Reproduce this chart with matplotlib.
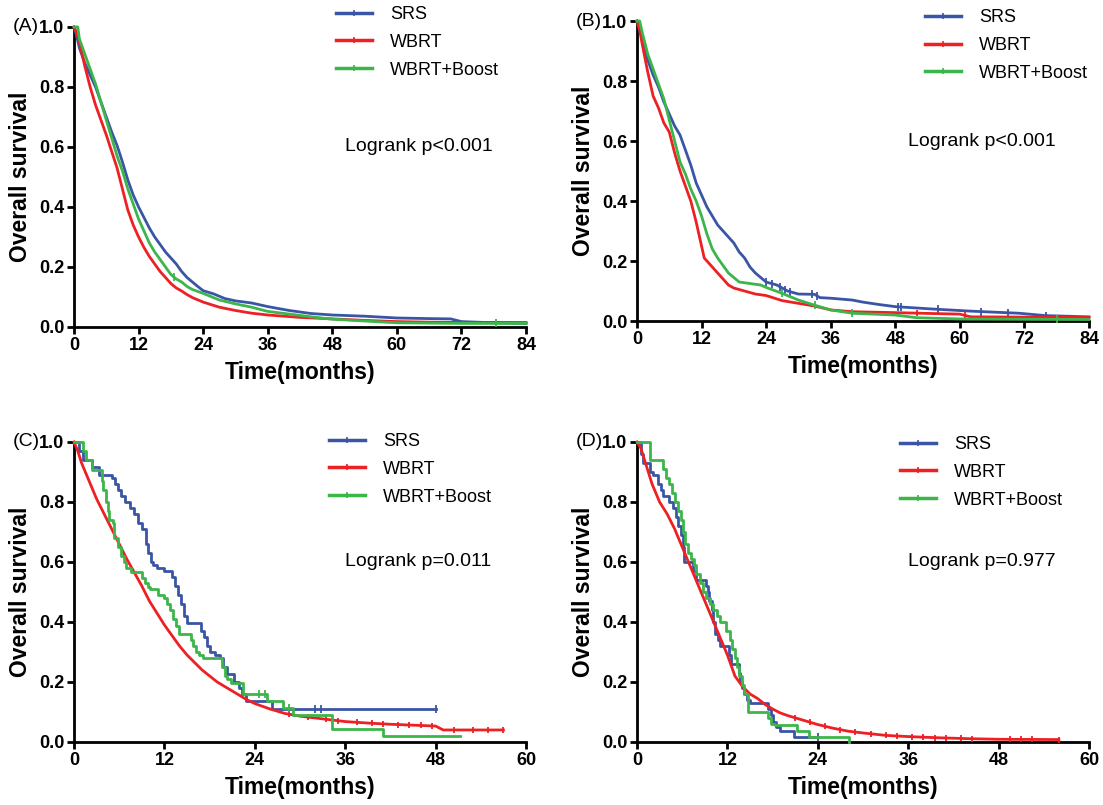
import numpy as np
import matplotlib
matplotlib.use("Agg")
import matplotlib.pyplot as plt
from matplotlib.lines import Line2D

plt.rcParams['font.family'] = ['Liberation Sans', 'DejaVu Sans']

BLUE = '#3a55a5'
RED = '#ed2024'
GREEN = '#3cb54a'

# ---- (A) ----
a_srs_t = [0, 0.5, 1, 2, 3, 4, 5, 6, 7, 8, 9, 10, 11, 12, 13, 14, 15, 16, 17, 18, 19, 20,
           21, 22, 23, 24, 26, 28, 30, 33, 36, 40, 44, 48, 54, 60, 66, 70, 72, 78, 84]
a_srs_s = [1.0, 0.97, 0.93, 0.88, 0.84, 0.80, 0.75, 0.70, 0.65, 0.605, 0.55, 0.49, 0.44, 0.40,
           0.365, 0.33, 0.30, 0.275, 0.25, 0.23, 0.21, 0.185, 0.165, 0.15, 0.135, 0.121, 0.11,
           0.095, 0.087, 0.08, 0.068, 0.055, 0.045, 0.04, 0.036, 0.03, 0.028, 0.027, 0.018,
           0.014, 0.012]
a_wbrt_t = [0, 0.5, 1, 2, 3, 4, 5, 6, 7, 8, 9, 10, 11, 12, 13, 14, 15, 16, 17, 18, 19, 20,
            21, 22, 24, 27, 30, 33, 36, 42, 48, 54, 60, 66, 72, 78, 84]
a_wbrt_s = [1.0, 0.98, 0.95, 0.87, 0.80, 0.74, 0.69, 0.64, 0.585, 0.53, 0.46, 0.39, 0.34, 0.30,
            0.265, 0.235, 0.21, 0.185, 0.165, 0.145, 0.13, 0.12, 0.108, 0.098, 0.083, 0.066,
            0.055, 0.046, 0.04, 0.032, 0.027, 0.022, 0.018, 0.016, 0.015, 0.015, 0.015]
a_boost_t = [0, 0.7, 1, 2, 3, 4, 5, 6, 7, 8, 9, 10, 11, 12, 13, 14, 15, 16, 17, 18, 19, 20,
             21, 22, 24, 27, 30, 33, 36, 40, 44, 48, 54, 60, 66, 72, 78, 84]
a_boost_s = [1.0, 1.0, 0.96, 0.91, 0.86, 0.81, 0.75, 0.69, 0.63, 0.57, 0.52, 0.46, 0.41, 0.36,
             0.32, 0.28, 0.25, 0.225, 0.20, 0.175, 0.16, 0.15, 0.135, 0.125, 0.112, 0.09, 0.077,
             0.066, 0.052, 0.043, 0.034, 0.026, 0.02, 0.014, 0.013, 0.012, 0.012, 0.012]
a_boost_cens = [18.5, 78.5]

# ---- (B) ----
b_srs_t = [0, 1, 2, 3, 4, 5, 6, 7, 8, 9, 10, 11, 12, 13, 14, 15, 16, 17, 18, 19, 20, 21, 22,
           23, 24, 25, 26, 27, 28, 30, 33, 34, 36, 40, 42, 45, 48, 55, 62, 71, 76, 84]
b_srs_s = [1.0, 0.94, 0.87, 0.82, 0.78, 0.73, 0.69, 0.65, 0.62, 0.57, 0.52, 0.46, 0.42, 0.38,
           0.35, 0.32, 0.30, 0.28, 0.26, 0.23, 0.21, 0.18, 0.16, 0.145, 0.13, 0.125, 0.12, 0.11,
           0.10, 0.09, 0.089, 0.078, 0.076, 0.07, 0.063, 0.055, 0.048, 0.04, 0.033, 0.026,
           0.018, 0.014]
b_wbrt_t = [0, 0.5, 1, 2, 3, 4, 5, 6, 7, 8, 9, 10, 11, 12, 12.5, 13, 14, 15, 16, 17, 18, 20,
            22, 24, 27, 30, 33, 36, 40, 48, 55, 60, 62, 84]
b_wbrt_s = [1.0, 0.97, 0.92, 0.83, 0.75, 0.71, 0.66, 0.63, 0.56, 0.50, 0.45, 0.40, 0.33, 0.25,
            0.21, 0.20, 0.18, 0.16, 0.14, 0.12, 0.11, 0.10, 0.09, 0.085, 0.068, 0.059, 0.05,
            0.037, 0.031, 0.028, 0.025, 0.023, 0.014, 0.012]
b_boost_t = [0, 0.5, 1, 2, 3, 4, 5, 6, 7, 8, 9, 10, 11, 12, 13, 14, 15, 16, 17, 18, 19, 21,
             23, 24, 27, 30, 33, 36, 40, 48, 52, 60, 84]
b_boost_s = [1.0, 1.0, 0.96, 0.89, 0.84, 0.79, 0.74, 0.67, 0.60, 0.53, 0.49, 0.44, 0.40, 0.35,
             0.29, 0.24, 0.21, 0.185, 0.16, 0.145, 0.13, 0.125, 0.12, 0.112, 0.092, 0.07, 0.053,
             0.037, 0.026, 0.02, 0.011, 0.007, 0.005]
b_srs_cens = [24, 25, 26.5, 27.5, 28.5, 32.5, 33.5, 48.5, 49, 56, 64, 69, 76]
b_boost_cens = [27, 33, 40, 78]
b_wbrt_cens = [52, 61]

# ---- (C) ----
c_srs_t = [0, 0.6, 1.2, 2.4, 3.3, 5.1, 5.5, 5.8, 6.3, 6.8, 7.4, 8.0, 8.5, 9.0, 9.5, 9.8, 10.2,
           10.5, 11.0, 12.0, 13.0, 13.4, 13.8, 14.2, 14.6, 15.0, 15.3, 16.8, 17.2, 17.6, 18.0,
           18.7, 19.4, 19.8, 20.3, 21.2, 21.9, 22.3, 22.8, 26.3, 48]
c_srs_s = [1.0, 0.97, 0.94, 0.915, 0.89, 0.88, 0.86, 0.84, 0.82, 0.80, 0.78, 0.76, 0.73, 0.71,
           0.66, 0.63, 0.60, 0.59, 0.58, 0.57, 0.55, 0.52, 0.49, 0.46, 0.42, 0.395, 0.395, 0.37,
           0.35, 0.32, 0.30, 0.29, 0.28, 0.25, 0.225, 0.20, 0.18, 0.16, 0.135, 0.11, 0.11]
c_srs_cens = [32.0, 32.8, 48]
c_wbrt_t = [0, 0.5, 1, 2, 3, 4, 5, 6, 7, 8, 9, 10, 11, 12, 13, 14, 15, 16, 17, 18, 19, 20, 21,
            22, 23, 24, 26, 28, 30, 33, 36, 39, 42, 45, 48, 49, 57]
c_wbrt_s = [1.0, 0.97, 0.93, 0.87, 0.81, 0.76, 0.71, 0.66, 0.61, 0.565, 0.52, 0.47, 0.43, 0.39,
            0.355, 0.32, 0.29, 0.265, 0.24, 0.22, 0.20, 0.185, 0.17, 0.155, 0.14, 0.128, 0.11,
            0.095, 0.086, 0.077, 0.068, 0.063, 0.059, 0.056, 0.053, 0.04, 0.04]
c_wbrt_cens = [28.5, 31, 33.5, 35, 37.5, 39.5, 41, 43, 44.5, 46, 47.5, 50.5, 53, 55, 57]
c_boost_t = [0, 1.2, 1.6, 2.4, 3.7, 3.9, 4.3, 4.5, 4.6, 5.2, 5.3, 5.8, 6.2, 6.6, 6.9, 7.6, 9.0,
             9.4, 9.8, 10.1, 11.2, 11.9, 12.4, 12.8, 13.1, 13.5, 14.0, 15.5, 15.8, 16.2, 16.6,
             17.1, 19.6, 20.0, 20.3, 20.8, 22.4, 25.6, 27.8, 29.1, 34.3, 41.0, 51.2]
c_boost_s = [1.0, 0.97, 0.94, 0.905, 0.87, 0.84, 0.80, 0.77, 0.74, 0.73, 0.68, 0.65, 0.62, 0.60,
             0.58, 0.565, 0.545, 0.53, 0.515, 0.51, 0.49, 0.48, 0.46, 0.44, 0.41, 0.385, 0.36,
             0.34, 0.32, 0.30, 0.29, 0.28, 0.25, 0.22, 0.21, 0.195, 0.16, 0.135, 0.112, 0.09,
             0.042, 0.02, 0.02]
c_boost_cens = [24.5, 25.3, 28.5]

# ---- (D) ----
d_srs_t = [0, 0.5, 0.8, 1.7, 2.1, 2.8, 3.2, 3.5, 4.3, 4.8, 5.2, 5.4, 5.9, 6.1, 6.2, 6.3, 7.4,
           7.8, 9.1, 9.4, 9.6, 9.9, 10.1, 10.4, 10.7, 11.0, 12.2, 12.5, 13.5, 13.7, 13.9, 14.2,
           14.6, 15.0, 15.4, 17.4, 17.8, 18.1, 18.4, 19.0, 20.9, 24.0]
d_srs_s = [1.0, 0.96, 0.93, 0.90, 0.89, 0.86, 0.84, 0.82, 0.80, 0.78, 0.75, 0.72, 0.69, 0.65,
           0.62, 0.60, 0.57, 0.54, 0.52, 0.50, 0.47, 0.44, 0.40, 0.36, 0.34, 0.32, 0.29, 0.26,
           0.23, 0.20, 0.18, 0.16, 0.14, 0.13, 0.13, 0.11, 0.09, 0.065, 0.05, 0.035, 0.017, 0.017]
d_wbrt_t = [0, 0.5, 1, 2, 3, 4, 5, 6, 7, 8, 9, 10, 11, 12, 13, 14, 15, 16, 17, 18, 19, 20, 22,
            24, 26, 28, 30, 33, 36, 40, 44, 48, 56]
d_wbrt_s = [1.0, 0.98, 0.94, 0.86, 0.80, 0.76, 0.71, 0.65, 0.59, 0.53, 0.47, 0.41, 0.35, 0.29,
            0.22, 0.185, 0.16, 0.145, 0.125, 0.11, 0.097, 0.088, 0.073, 0.058, 0.046, 0.036,
            0.03, 0.022, 0.018, 0.014, 0.011, 0.009, 0.008]
d_wbrt_cens = [21, 23, 25, 27, 29, 31, 33, 34.5, 36.5, 38, 39.5, 41, 43, 44.5, 49.5, 51, 52.5,
               56]
d_boost_t = [0, 1.7, 3.5, 3.9, 4.3, 4.7, 5.0, 5.5, 5.8, 6.1, 6.4, 6.8, 7.2, 7.6, 7.9, 8.4, 8.8,
             9.2, 9.7, 10.1, 10.6, 11.0, 11.8, 12.3, 12.6, 13.0, 13.3, 13.6, 13.9, 14.2, 14.7,
             17.4, 17.8, 18.3, 21.2, 22.9, 28.2]
d_boost_s = [1.0, 0.94, 0.91, 0.88, 0.86, 0.83, 0.80, 0.77, 0.74, 0.70, 0.66, 0.63, 0.61, 0.59,
             0.56, 0.53, 0.50, 0.48, 0.46, 0.44, 0.42, 0.40, 0.37, 0.34, 0.31, 0.28, 0.25, 0.22,
             0.19, 0.16, 0.10, 0.08, 0.06, 0.058, 0.037, 0.015, 0.0]

labels = ['SRS', 'WBRT', 'WBRT+Boost']
colors = [BLUE, RED, GREEN]


def value_at(t, s, x, smooth):
    if smooth:
        return np.interp(x, t, s)
    i = np.searchsorted(t, x, side='right') - 1
    return np.asarray(s)[i]


def draw(ax, curves, xmax, ptext, letter, leg_xy, smooth):
    for (t, s, cens), col, sm in zip(curves, colors, smooth):
        ds = 'default' if sm else 'steps-post'
        ax.plot(t, s, color=col, lw=2.0, drawstyle=ds, clip_on=False, zorder=3)
        if cens:
            ms = 4 if col == RED else 6
            ax.plot(cens, value_at(t, s, cens, sm), ls='none', marker='|', color=col,
                    markersize=ms, mew=1.3, clip_on=False, zorder=3)
    ax.set_xlim(0, xmax)
    ax.set_ylim(0, 1.0)
    ax.set_xticks(np.arange(0, xmax + 1, 12))
    ax.set_yticks(np.arange(0, 1.01, 0.2))
    ax.set_yticklabels([f'{v:.1f}' for v in np.arange(0, 1.01, 0.2)])
    for sp in ['top', 'right']:
        ax.spines[sp].set_visible(False)
    for sp in ['left', 'bottom']:
        ax.spines[sp].set_linewidth(2.0)
    ax.tick_params(direction='out', length=5, width=2.0, labelsize=13, pad=2)
    for lb in ax.get_xticklabels() + ax.get_yticklabels():
        lb.set_fontweight('bold')
    ax.set_xlabel('Time(months)', fontsize=16.5, fontweight='bold', labelpad=5)
    ax.set_ylabel('Overall survival', fontsize=16.5, fontweight='bold', labelpad=5)
    ax.text(0.60, 0.60, ptext, transform=ax.transAxes, fontsize=14, va='center')
    ax.text(-0.135, 1.0, letter, transform=ax.transAxes, fontsize=14, va='center')
    handles = [Line2D([], [], color=c, lw=2.5, marker='|', markersize=5, mew=1.2)
               for c in colors]
    ax.legend(handles, labels, loc='upper left', bbox_to_anchor=leg_xy, frameon=False,
              fontsize=13, handlelength=2.0, handletextpad=1.0, labelspacing=0.6,
              borderpad=0, borderaxespad=0)


fig = plt.figure(figsize=(11.03, 8.05), dpi=100)
w, h = 0.4098, 0.3727
axA = fig.add_axes([0.0671, 0.5938, w, h])
axB = fig.add_axes([0.5775, 0.6012, w, h])
axC = fig.add_axes([0.0671, 0.0783, w, h])
axD = fig.add_axes([0.5775, 0.0783, w, h])

draw(axA, [(a_srs_t, a_srs_s, None), (a_wbrt_t, a_wbrt_s, None),
           (a_boost_t, a_boost_s, a_boost_cens)],
     84, 'Logrank p<0.001', '(A)', (0.58, 1.07), [True, True, True])
draw(axB, [(b_srs_t, b_srs_s, b_srs_cens), (b_wbrt_t, b_wbrt_s, b_wbrt_cens),
           (b_boost_t, b_boost_s, b_boost_cens)],
     84, 'Logrank p<0.001', '(B)', (0.637, 1.04), [True, True, True])
draw(axC, [(c_srs_t, c_srs_s, c_srs_cens), (c_wbrt_t, c_wbrt_s, c_wbrt_cens),
           (c_boost_t, c_boost_s, c_boost_cens)],
     60, 'Logrank p=0.011', '(C)', (0.564, 1.03), [False, True, False])
draw(axD, [(d_srs_t, d_srs_s, [24.0]), (d_wbrt_t, d_wbrt_s, d_wbrt_cens),
           (d_boost_t, d_boost_s, None)],
     60, 'Logrank p=0.977', '(D)', (0.582, 1.02), [False, True, False])

fig.savefig('out.png', dpi=100)
